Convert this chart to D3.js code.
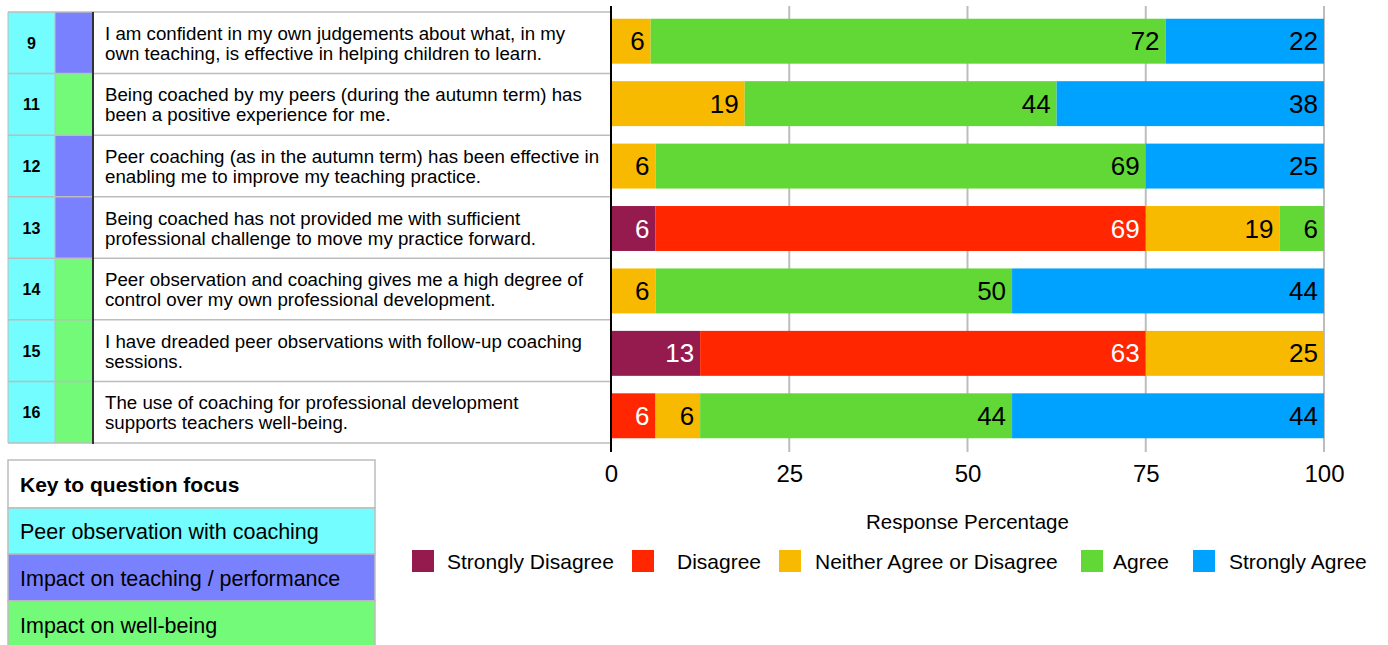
<!DOCTYPE html>
<html>
<head>
<meta charset="utf-8">
<script src="https://cdn.jsdelivr.net/npm/d3@7"></script>
<style>
  html, body { margin: 0; padding: 0; background: #fff; }
  svg { display: block; font-family: "Helvetica Neue", Helvetica, Arial, "Liberation Sans", sans-serif; }
</style>
</head>
<body>
<svg id="chart" width="1388" height="645"></svg>
<script>
// ---------- DATA ----------
const questions = ["9", "11", "12", "13", "14", "15", "16"];
const statements = [
  ["I am confident in my own judgements about what, in my", "own teaching, is effective in helping children to learn."],
  ["Being coached by my peers (during the autumn term) has", "been a positive experience for me."],
  ["Peer coaching (as in the autumn term) has been effective in", "enabling me to improve my teaching practice."],
  ["Being coached has not provided me with sufficient", "professional challenge to move my practice forward."],
  ["Peer observation and coaching gives me a high degree of", "control over my own professional development."],
  ["I have dreaded peer observations with follow-up coaching", "sessions."],
  ["The use of coaching for professional development", "supports teachers well-being."]
];
const questionFocus = ["teaching", "wellbeing", "teaching", "teaching", "wellbeing", "wellbeing", "wellbeing"];
const responseLevels = ["Strongly Disagree", "Disagree", "Neither Agree or Disagree", "Agree", "Strongly Agree"];
const stronglyDisagree = [0, 0, 0, 6.25, 0, 12.5, 0];
const disagree         = [0, 0, 0, 68.75, 0, 62.5, 6.25];
const neither          = [5.56, 18.75, 6.25, 18.75, 6.25, 25, 6.25];
const agree            = [72.22, 43.75, 68.75, 6.25, 50, 0, 43.75];
const stronglyAgree    = [22.22, 37.5, 25, 0, 43.75, 0, 43.75];
const xTicks = [0, 25, 50, 75, 100];
const xTitle = "Response Percentage";
const keyTitle = "Key to question focus";
const keyItems = ["all", "teaching", "wellbeing"];
const keyLabels = ["Peer observation with coaching", "Impact on teaching / performance", "Impact on well-being"];

// ---------- STYLE ----------
const levelColors = ["#951A4E", "#FF2600", "#F8BA00", "#61D836", "#00A2FF"];
const levelTextColors = ["#fff", "#fff", "#000", "#000", "#000"];
const focusColor = d3.scaleOrdinal().domain(keyItems).range(["#73FDFF", "#7A81FF", "#73FA79"]);
const gridGray = "#bdbdbd";

const svg = d3.select("#chart");

// rows as objects
const series = [stronglyDisagree, disagree, neither, agree, stronglyAgree];
const rows = questions.map((q, i) => {
  const o = { q };
  responseLevels.forEach((lv, j) => o[lv] = series[j][i]);
  return o;
});
const stacked = d3.stack().keys(responseLevels)(rows);

// ---------- SCALES ----------
const x = d3.scaleLinear().domain([0, 100]).range([611, 1324]);
const yBar = d3.scaleBand().domain(questions).range([10, 447]).paddingInner(0.28).paddingOuter(0.14);
const yRow = d3.scaleBand().domain(questions).range([12, 443]);

// ---------- LEFT TABLE ----------
const colNumX = 8, colFocusX = 55, colTextX = 93, tableRight = 611;
const tbl = svg.append("g");
tbl.selectAll("rect.num").data(questions).join("rect")
  .attr("x", colNumX).attr("y", d => yRow(d)).attr("width", colFocusX - colNumX).attr("height", yRow.bandwidth())
  .attr("fill", focusColor("all"));
tbl.selectAll("rect.focus").data(questions).join("rect")
  .attr("x", colFocusX).attr("y", d => yRow(d)).attr("width", colTextX - colFocusX).attr("height", yRow.bandwidth())
  .attr("fill", (d, i) => focusColor(questionFocus[i]));
// horizontal lines
const hLines = questions.map(q => yRow(q)).concat([yRow.range()[1]]);
tbl.selectAll("line.h").data(hLines).join("line")
  .attr("x1", colNumX).attr("x2", tableRight).attr("y1", d => d).attr("y2", d => d)
  .attr("stroke", gridGray).attr("stroke-width", 1.5);
// vertical lines
[colNumX, colFocusX].forEach(vx => {
  tbl.append("line").attr("x1", vx).attr("x2", vx).attr("y1", yRow.range()[0]).attr("y2", yRow.range()[1])
    .attr("stroke", gridGray).attr("stroke-width", 1);
});
tbl.append("line").attr("x1", colTextX).attr("x2", colTextX).attr("y1", yRow.range()[0]).attr("y2", yRow.range()[1] + 1)
  .attr("stroke", "#333").attr("stroke-width", 2);
// numbers
tbl.selectAll("text.num").data(questions).join("text")
  .attr("x", (colNumX + colFocusX) / 2).attr("y", d => yRow(d) + yRow.bandwidth() / 2 + 6)
  .attr("text-anchor", "middle").attr("font-size", 16).attr("font-weight", "bold").attr("fill", "#000")
  .text(d => d);
// statements
const stG = tbl.selectAll("text.st").data(statements).join("text")
  .attr("font-size", 18.7).attr("fill", "#000");
stG.each(function(lines, i) {
  const cy = yRow(questions[i]) + yRow.bandwidth() / 2;
  d3.select(this).selectAll("tspan").data(lines).join("tspan")
    .attr("x", 105).attr("y", (d, k) => cy - 3 + k * 20)
    .text(d => d);
});

// ---------- GRID ----------
const grid = svg.append("g");
grid.selectAll("line").data(xTicks.filter(t => t > 0)).join("line")
  .attr("x1", d => x(d)).attr("x2", d => x(d)).attr("y1", 6).attr("y2", 452)
  .attr("stroke", gridGray).attr("stroke-width", 2);

// ---------- BARS ----------
const barG = svg.append("g");
stacked.forEach((layer, j) => {
  const g = barG.append("g").attr("fill", levelColors[j]);
  g.selectAll("rect").data(layer.filter(d => d[1] - d[0] > 0)).join("rect")
    .attr("x", d => x(d[0])).attr("y", d => yBar(d.data.q))
    .attr("width", d => x(d[1]) - x(d[0])).attr("height", yBar.bandwidth());
});
stacked.forEach((layer, j) => {
  barG.append("g").selectAll("text").data(layer.filter(d => d[1] - d[0] > 0)).join("text")
    .attr("x", d => x(d[1]) - 6).attr("y", d => yBar(d.data.q) + yBar.bandwidth() / 2 + 9)
    .attr("text-anchor", "end").attr("font-size", 26).attr("fill", levelTextColors[j])
    .text(d => Math.round(d[1] - d[0]));
});

// axis line
svg.append("line").attr("x1", x(0)).attr("x2", x(0)).attr("y1", 6).attr("y2", 452)
  .attr("stroke", "#000").attr("stroke-width", 2);

// ---------- X AXIS ----------
const xAxis = d3.axisBottom(x).tickValues(xTicks).tickSize(0).tickPadding(3);
const ax = svg.append("g").attr("transform", "translate(0,462)").call(xAxis);
ax.select(".domain").remove();
ax.selectAll("text").attr("font-size", 24).attr("fill", "#000")
  .attr("font-family", "\"Helvetica Neue\", Helvetica, Arial, \"Liberation Sans\", sans-serif");

svg.append("text").attr("x", x(50)).attr("y", 529).attr("text-anchor", "middle")
  .attr("font-size", 20.5).attr("fill", "#000").text(xTitle);

// ---------- LEGEND ----------
const legendSquareX = [412, 632, 779, 1081, 1193];
const legendTextDx = [35, 45, 36, 32, 36];
const leg = svg.append("g");
responseLevels.forEach((lv, j) => {
  const g = leg.append("g").attr("transform", `translate(${legendSquareX[j]},550)`);
  g.append("rect").attr("width", 22).attr("height", 22).attr("fill", levelColors[j]);
  g.append("text").attr("x", legendTextDx[j])
    .attr("y", 19).attr("font-size", 21).attr("fill", "#000").text(lv);
});

// ---------- KEY TABLE ----------
const keyX = 8, keyW = 367;
const keyRowsY = [460, 508, 554, 601, 648];
const key = svg.append("g");
key.append("rect").attr("x", keyX).attr("y", keyRowsY[0]).attr("width", keyW).attr("height", keyRowsY[1] - keyRowsY[0])
  .attr("fill", "#fff").attr("stroke", gridGray).attr("stroke-width", 1.5);
key.append("text").attr("x", 20).attr("y", keyRowsY[0] + 32).attr("font-size", 21).attr("font-weight", "bold")
  .attr("fill", "#000").text(keyTitle);
keyItems.forEach((k, i) => {
  key.append("rect").attr("x", keyX).attr("y", keyRowsY[i + 1]).attr("width", keyW)
    .attr("height", keyRowsY[i + 2] - keyRowsY[i + 1])
    .attr("fill", focusColor(k)).attr("stroke", gridGray).attr("stroke-width", 1.5);
  key.append("text").attr("x", 20).attr("y", (keyRowsY[i + 1] + keyRowsY[i + 2]) / 2 + 8)
    .attr("font-size", 21.5).attr("fill", "#000").text(keyLabels[i]);
});
</script>
</body>
</html>
